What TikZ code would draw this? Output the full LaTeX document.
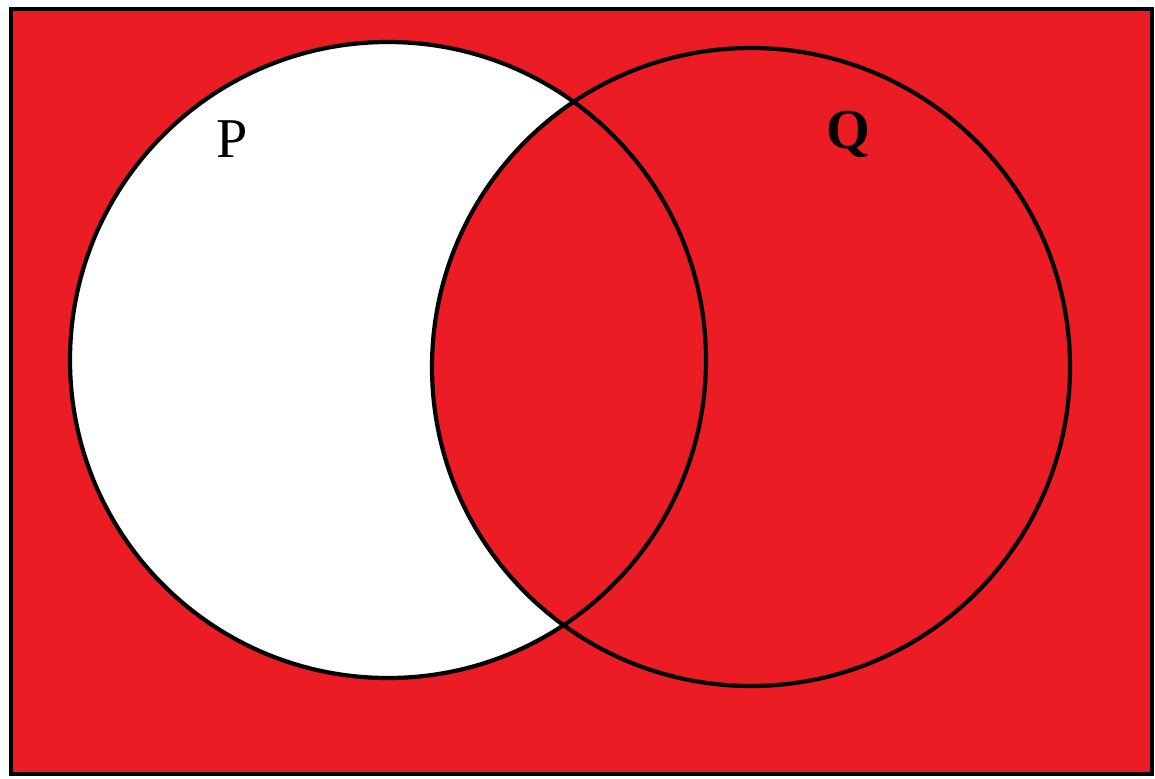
\documentclass[tikz,border=0pt]{standalone}
\usepackage{fontspec}
\setmainfont{Liberation Serif}
\definecolor{vennred}{RGB}{236,28,36}
\tikzset{
  setline/.style={line width=2.4pt, black},
  setlabel/.style={font=\fontsize{32}{36}\selectfont, text=black}
}
\begin{document}
\begin{tikzpicture}[x=0.02cm, y=-0.02cm]
  \useasboundingbox (0,0) rectangle (1155,778);
  % universe
  \fill[vennred] (11,9) rectangle (1152,774);
  \coordinate (pc) at (388,360);
  \coordinate (qc) at (751,367);
  % P without Q stays white
  \fill[white] (pc) circle (318);
  \fill[vennred] (qc) circle (319);
  % outlines
  \draw[setline] (11,9) rectangle (1152,774);
  \draw[setline] (pc) circle (318);
  \draw[setline] (qc) circle (319);
  % labels
  \node[setlabel] (plabel) at (232,139) {P};
  \node[setlabel, font=\fontsize{32}{36}\selectfont\bfseries] (qlabel) at (848,134) {Q};
\end{tikzpicture}
\end{document}
